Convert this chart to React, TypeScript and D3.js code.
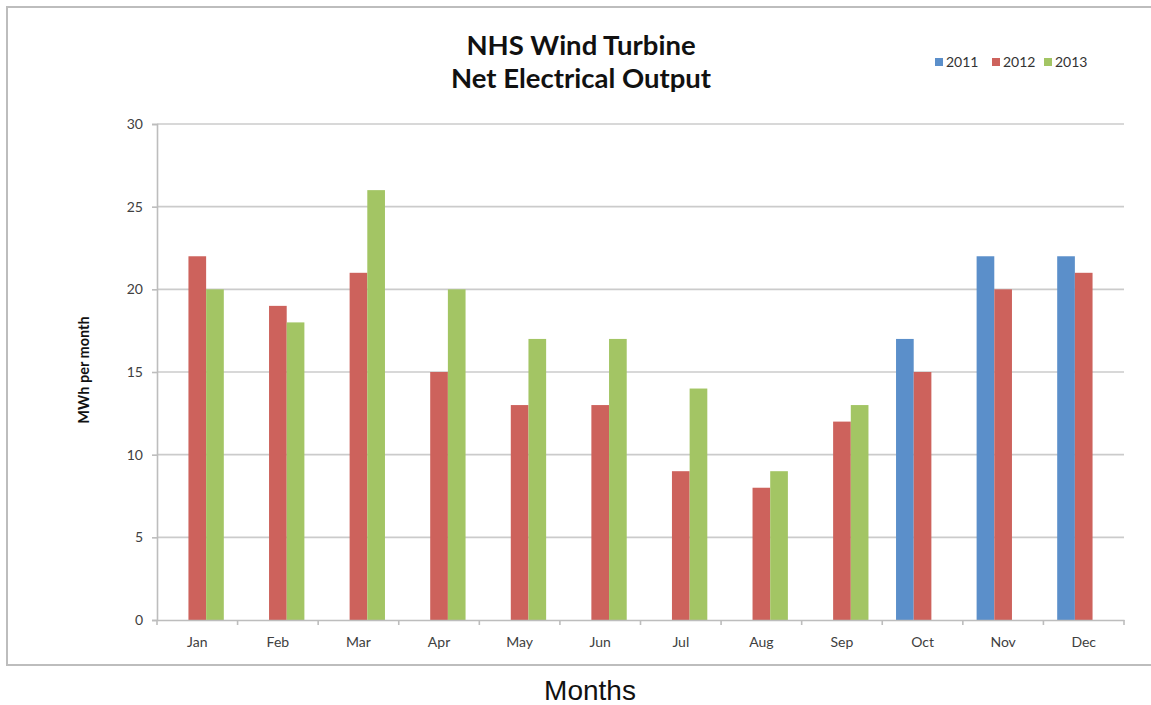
import * as d3 from "d3";
import { useLayoutEffect, useRef } from "react";

const months = ["Jan", "Feb", "Mar", "Apr", "May", "Jun", "Jul", "Aug", "Sep", "Oct", "Nov", "Dec"];
const years = ["2011", "2012", "2013"];
const values2011 = [null, null, null, null, null, null, null, null, null, 17, 22, 22];
const values2012 = [22, 19, 21, 15, 13, 13, 9, 8, 12, 15, 20, 21];
const values2013 = [20, 18, 26, 20, 17, 17, 14, 9, 13, null, null, null];
const yTicks = [0, 5, 10, 15, 20, 25, 30];
const colors = ["#5b8fca", "#cd625c", "#a3c564"];

const WIDTH = 1151;
const HEIGHT = 705;
const PLOT = { left: 157, right: 1124, top: 124, bottom: 620 };
const FONT = "Lato, 'Open Sans', sans-serif";

export default function App() {
  const svgRef = useRef<SVGSVGElement | null>(null);

  useLayoutEffect(function draw() {
    const svg = d3.select(svgRef.current);
    svg.selectAll("*").remove();

    const series = [values2011, values2012, values2013];

    const x = d3
      .scaleBand()
      .domain(months)
      .range([PLOT.left, PLOT.right])
      .paddingInner(0.342)
      .paddingOuter(0.171);
    const xInner = d3.scaleBand().domain(years).range([0, x.bandwidth()]);
    const y = d3.scaleLinear().domain([0, 30]).range([PLOT.bottom, PLOT.top]);

    // outer frame (top, left, bottom)
    svg
      .append("path")
      .attr("d", `M${WIDTH},7 H7 V665 H${WIDTH}`)
      .attr("fill", "none")
      .attr("stroke", "#bdbdbd")
      .attr("stroke-width", 2);

    // gridlines
    svg
      .append("g")
      .selectAll("line")
      .data(yTicks.filter((t) => t > 0))
      .join("line")
      .attr("x1", PLOT.left)
      .attr("x2", PLOT.right)
      .attr("y1", (d) => y(d))
      .attr("y2", (d) => y(d))
      .attr("stroke", "#cbcbcb")
      .attr("stroke-width", 1.6);

    // y axis
    const yAxis = svg
      .append("g")
      .attr("transform", `translate(${PLOT.left},0)`)
      .call(d3.axisLeft(y).tickValues(yTicks).tickSize(5).tickPadding(9));
    yAxis.select(".domain").attr("stroke", "#bdbdbd").attr("stroke-width", 1.6);
    yAxis.selectAll(".tick line").attr("stroke", "#bdbdbd").attr("stroke-width", 1.6);
    yAxis
      .selectAll(".tick text")
      .attr("fill", "#404040")
      .style("font-family", FONT)
      .style("font-size", "14px");

    // bars
    svg
      .append("g")
      .selectAll("g")
      .data(series)
      .join("g")
      .attr("fill", (_, i) => colors[i])
      .each(function (vals, i) {
        d3.select(this)
          .selectAll("rect")
          .data(vals.map((v, j) => ({ v, m: months[j] })).filter((d) => d.v != null))
          .join("rect")
          .attr("x", (d) => x(d.m)! + xInner(years[i])!)
          .attr("width", xInner.bandwidth())
          .attr("y", (d) => y(d.v as number))
          .attr("height", (d) => y(0) - y(d.v as number));
      });

    // x axis
    const xAxis = svg
      .append("g")
      .attr("transform", `translate(0,${PLOT.bottom})`)
      .call(d3.axisBottom(x).tickSize(0).tickPadding(17));
    xAxis.select(".domain").attr("stroke", "#bdbdbd").attr("stroke-width", 1.6);
    xAxis
      .selectAll(".tick text")
      .attr("fill", "#404040")
      .style("font-family", FONT)
      .style("font-size", "14px");
    const step = x.step();
    svg
      .append("g")
      .selectAll("line")
      .data(d3.range(months.length + 1))
      .join("line")
      .attr("x1", (i) => PLOT.left + i * step)
      .attr("x2", (i) => PLOT.left + i * step)
      .attr("y1", PLOT.bottom)
      .attr("y2", PLOT.bottom + 5)
      .attr("stroke", "#bdbdbd")
      .attr("stroke-width", 1.6);

    // title
    const title = svg
      .append("text")
      .attr("text-anchor", "middle")
      .style("font-family", FONT)
      .style("font-weight", "bold")
      .style("font-size", "27.5px")
      .attr("fill", "#111");
    title.append("tspan").attr("x", 581).attr("y", 55).text("NHS Wind Turbine");
    title.append("tspan").attr("x", 581).attr("y", 88).text("Net Electrical Output");

    // y label
    svg
      .append("text")
      .attr("transform", `translate(89,370) rotate(-90)`)
      .attr("text-anchor", "middle")
      .style("font-family", FONT)
      .style("font-weight", "bold")
      .style("font-size", "14.5px")
      .attr("fill", "#111")
      .text("MWh per month");

    // x label
    svg
      .append("text")
      .attr("x", 590)
      .attr("y", 700)
      .attr("text-anchor", "middle")
      .style("font-family", "'Liberation Sans', Arial, sans-serif")
      .style("font-size", "28px")
      .attr("fill", "#111")
      .text("Months");

    // legend
    const legendX = [935, 992, 1044];
    const legend = svg
      .append("g")
      .selectAll("g")
      .data(years)
      .join("g")
      .attr("transform", (_, i) => `translate(${legendX[i]},0)`);
    legend
      .append("rect")
      .attr("x", 0)
      .attr("y", 58)
      .attr("width", 8)
      .attr("height", 8)
      .attr("fill", (_, i) => colors[i]);
    legend
      .append("text")
      .attr("x", 11)
      .attr("y", 67)
      .style("font-family", FONT)
      .style("font-size", "14px")
      .attr("fill", "#333")
      .text((d) => d);
  }, []);

  return (
    <div style={{ position: "absolute", left: 0, top: 0 }}>
      <svg ref={svgRef} width={WIDTH} height={HEIGHT} style={{ display: "block", background: "#fff" }}></svg>
    </div>
  );
}
